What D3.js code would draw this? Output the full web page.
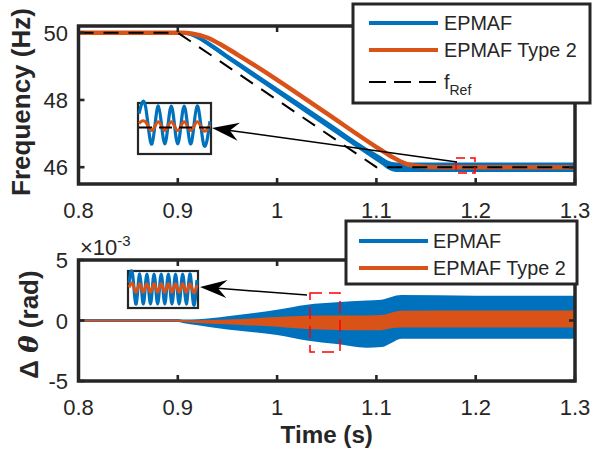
<!DOCTYPE html>
<html><head><meta charset="utf-8">
<script src="https://cdn.jsdelivr.net/npm/d3@7"></script>
<style>
body{margin:0;background:#fff}
svg{display:block}
text{font-family:"Liberation Sans",Arial,Helvetica,sans-serif;fill:#262626}
</style>
</head><body>
<svg id="c" width="603" height="452"></svg>
<script>
// ---------------- DATA ----------------
const xTicks = [0.8, 0.9, 1, 1.1, 1.2, 1.3];
const xTickLabels = ["0.8", "0.9", "1", "1.1", "1.2", "1.3"];
const freqTicks = [46, 48, 50];
const freqTickLabels = ["46", "48", "50"];
const dthTicks = [-5, 0, 5];           // x 10^-3 rad
const dthTickLabels = ["-5", "0", "5"];
const seriesNames = ["EPMAF", "EPMAF Type 2"];

// top panel: reference frequency
const refT = [0.8, 0.9, 1.1, 1.3];
const refF = [50, 50, 46, 46];
// top panel: EPMAF (centre and oscillation half-band, Hz)
const blueT   = [0.8, 0.905, 0.915, 0.925, 0.95, 1.0, 1.05, 1.09, 1.105, 1.112, 1.12, 1.3];
const blueF   = [50, 50, 49.93, 49.78, 49.28, 48.28, 47.28, 46.48, 46.2, 46.06, 46.0, 46.0];
const blueAmp = [0, 0, 0.03, 0.06, 0.08, 0.09, 0.1, 0.1, 0.12, 0.13, 0.14, 0.14];
// top panel: EPMAF Type 2
const orangeT = [0.8, 0.905, 0.915, 0.93, 0.945, 0.96, 1.0, 1.05, 1.1, 1.115, 1.13, 1.145, 1.16, 1.3];
const orangeF = [50, 50, 49.97, 49.85, 49.62, 49.35, 48.6, 47.6, 46.6, 46.32, 46.1, 46.02, 46.0, 46.0];

// bottom panel: envelopes of delta theta (x 10^-3 rad)
const envT     = [0.8, 0.9, 0.905, 0.92, 0.95, 1.0, 1.03, 1.06, 1.09, 1.105, 1.115, 1.125, 1.2, 1.3];
const blueUp   = [0.12, 0.12, 0.08, 0.1, 0.35, 0.88, 1.3, 1.5, 1.65, 1.72, 1.95, 2.1, 2.05, 2.05];
const blueLo   = [-0.12, -0.12, -0.2, -0.4, -0.75, -1.2, -1.65, -1.95, -2.25, -2.2, -1.85, -1.5, -1.5, -1.5];
const orangeUp = [0.08, 0.08, 0.05, 0.02, 0.08, 0.28, 0.4, 0.42, 0.42, 0.45, 0.65, 0.8, 0.83, 0.83];
const orangeLo = [-0.08, -0.08, -0.12, -0.2, -0.32, -0.52, -0.7, -0.78, -0.8, -0.8, -0.65, -0.58, -0.57, -0.57];

const insetTopBlue   = [0.6, 1, -1, 1, -1, 1, -1, 1, -1, 1, -1, 0.2];
const insetTopOrange = [0.1, 0.2, -0.35, 0.2, -0.35, 0.2, -0.35, 0.2, -0.35, 0.2, -0.35, 0.0];
const insetTopRef    = [-0.15, -0.15];
const insetBotBlue   = [0.4, 1, -1, 1, -1, 1, -1, 1, -1, 1, -1, 1, -1, 1, -1, 1, -1, 1, -1, 0.6];
const insetBotOrange = [0.05, 0.3, -0.3, 0.3, -0.3, 0.3, -0.3, 0.3, -0.3, 0.3, -0.3, 0.3, -0.3, 0.3, -0.3, 0.3, -0.3, 0.3, -0.3, 0.2];

// ---------------- STYLE / LAYOUT ----------------
const C_BLUE = "#0072BD", C_ORANGE = "#D95319", C_AX = "#262626", C_RED = "#FF0000";
const svg = d3.select("#c");
const L = 78.5, R = 575;
const topP = {t: 26, b: 184};
const botP = {t: 260, b: 381};

const x = d3.scaleLinear().domain([0.8, 1.3]).range([L, R]);
const yF = d3.scaleLinear().domain([45.5, 50.2]).range([topP.b, topP.t]);
const yD = d3.scaleLinear().domain([-5, 5]).range([botP.b, botP.t]);

const defs = svg.append("defs");
defs.append("clipPath").attr("id", "clipTop").append("rect")
  .attr("x", L).attr("y", topP.t).attr("width", R - L).attr("height", topP.b - topP.t);
defs.append("clipPath").attr("id", "clipBot").append("rect")
  .attr("x", L).attr("y", botP.t).attr("width", R - L).attr("height", botP.b - botP.t);

// ---------- top panel data ----------
const gT = svg.append("g").attr("clip-path", "url(#clipTop)");
const bluePts = blueT.map((t, i) => ({t, f: blueF[i], a: blueAmp[i]}));
gT.append("path").datum(bluePts)
  .attr("d", d3.area().x(d => x(d.t)).y0(d => yF(d.f - d.a)).y1(d => yF(d.f + d.a)).curve(d3.curveMonotoneX))
  .attr("fill", C_BLUE);
gT.append("path").datum(bluePts)
  .attr("d", d3.line().x(d => x(d.t)).y(d => yF(d.f)).curve(d3.curveMonotoneX))
  .attr("fill", "none").attr("stroke", C_BLUE).attr("stroke-width", 3.5);
gT.append("path").datum(orangeT.map((t, i) => ({t, f: orangeF[i]})))
  .attr("d", d3.line().x(d => x(d.t)).y(d => yF(d.f)).curve(d3.curveMonotoneX))
  .attr("fill", "none").attr("stroke", C_ORANGE).attr("stroke-width", 4.5);
gT.append("path").datum(refT.map((t, i) => ({t, f: refF[i]})))
  .attr("d", d3.line().x(d => x(d.t)).y(d => yF(d.f)))
  .attr("fill", "none").attr("stroke", "#000").attr("stroke-width", 2)
  .attr("stroke-dasharray", "15,10");

// ---------- bottom panel data ----------
const gB = svg.append("g").attr("clip-path", "url(#clipBot)");
gB.append("path").datum(envT.map((t, i) => ({t, u: blueUp[i], l: blueLo[i]})))
  .attr("d", d3.area().x(d => x(d.t)).y0(d => yD(d.l)).y1(d => yD(d.u)).curve(d3.curveMonotoneX))
  .attr("fill", C_BLUE);
gB.append("path").datum(envT.map((t, i) => ({t, u: orangeUp[i], l: orangeLo[i]})))
  .attr("d", d3.area().x(d => x(d.t)).y0(d => yD(d.l)).y1(d => yD(d.u)).curve(d3.curveMonotoneX))
  .attr("fill", C_ORANGE);

// ---------- axes ----------
function drawAxes(y, yTicks, yLabels, p) {
  const g = svg.append("g");
  const tickW = 2.6, tl = 6;
  g.selectAll(".xb").data(xTicks).join("line")
    .attr("x1", d => x(d)).attr("x2", d => x(d)).attr("y1", p.b).attr("y2", p.b - tl)
    .attr("stroke", C_AX).attr("stroke-width", tickW);
  g.selectAll(".xt").data(xTicks).join("line").attr("class", "xt")
    .attr("x1", d => x(d)).attr("x2", d => x(d)).attr("y1", p.t).attr("y2", p.t + tl)
    .attr("stroke", C_AX).attr("stroke-width", tickW);
  g.selectAll(".yl").data(yTicks).join("line").attr("class", "yl")
    .attr("x1", L).attr("x2", L + tl).attr("y1", d => y(d)).attr("y2", d => y(d))
    .attr("stroke", C_AX).attr("stroke-width", tickW);
  g.selectAll(".yr").data(yTicks).join("line").attr("class", "yr")
    .attr("x1", R).attr("x2", R - tl).attr("y1", d => y(d)).attr("y2", d => y(d))
    .attr("stroke", C_AX).attr("stroke-width", tickW);
  g.append("rect").attr("x", L).attr("y", p.t).attr("width", R - L).attr("height", p.b - p.t)
    .attr("fill", "none").attr("stroke", C_AX).attr("stroke-width", 3.5);
  g.selectAll(".xlab").data(xTicks).join("text").attr("class", "xlab")
    .attr("x", d => x(d)).attr("y", p.b + 33.5).attr("text-anchor", "middle")
    .attr("font-size", 22).text((d, i) => xTickLabels[i]);
  g.selectAll(".ylab").data(yTicks).join("text").attr("class", "ylab")
    .attr("x", 68).attr("y", d => y(d) + 8).attr("text-anchor", "end")
    .attr("font-size", 22).text((d, i) => yLabels[i]);
}
drawAxes(yF, freqTicks, freqTickLabels, topP);
drawAxes(yD, dthTicks, dthTickLabels, botP);

// exponent
const ex = svg.append("text").attr("x", 80).attr("y", 255).attr("font-size", 22);
ex.append("tspan").text("\u00d710");
ex.append("tspan").attr("font-size", 15).attr("dy", -9).text("-3");

// axis labels
svg.append("text").attr("transform", `translate(30,${(topP.t + topP.b) / 2 - 3}) rotate(-90)`)
  .attr("text-anchor", "middle").attr("font-size", 26).attr("font-weight", "bold")
  .text("Frequency (Hz)");
const dl = svg.append("text").attr("transform", `translate(38,${(botP.t + botP.b) / 2 + 4}) rotate(-90)`)
  .attr("text-anchor", "middle").attr("font-size", 26).attr("font-weight", "bold");
dl.append("tspan").text("\u0394 ");
dl.append("tspan").attr("font-style", "italic").attr("font-family", "'DejaVu Serif',serif").text("\u03b8");
dl.append("tspan").text(" (rad)");
svg.append("text").attr("x", (L + R) / 2).attr("y", 443).attr("text-anchor", "middle")
  .attr("font-size", 24.2).attr("font-weight", "bold").text("Time (s)");

// ---------- legends ----------
function legendBox(bx, by, bw, bh) {
  svg.append("rect").attr("x", bx).attr("y", by).attr("width", bw).attr("height", bh)
    .attr("fill", "#fff").attr("stroke", C_AX).attr("stroke-width", 3);
}
legendBox(353, 4, 237, 99);
const lgTop = [
  {y: 23, color: C_BLUE, label: seriesNames[0]},
  {y: 50, color: C_ORANGE, label: seriesNames[1]},
];
lgTop.forEach(e => {
  svg.append("line").attr("x1", 369).attr("x2", 438).attr("y1", e.y).attr("y2", e.y)
    .attr("stroke", e.color).attr("stroke-width", 4);
  svg.append("text").attr("x", 444).attr("y", e.y + 7).attr("font-size", 19.8).text(e.label);
});
svg.append("line").attr("x1", 369).attr("x2", 438).attr("y1", 82).attr("y2", 82)
  .attr("stroke", "#000").attr("stroke-width", 2).attr("stroke-dasharray", "17,8");
const fr = svg.append("text").attr("x", 444).attr("y", 89).attr("font-size", 19.8);
fr.append("tspan").text("f");
fr.append("tspan").attr("font-size", 14).attr("dy", 6).text("Ref");

legendBox(346, 221, 231, 63);
[{y: 241, color: C_BLUE, label: seriesNames[0]}, {y: 268, color: C_ORANGE, label: seriesNames[1]}]
.forEach(e => {
  svg.append("line").attr("x1", 359).attr("x2", 428).attr("y1", e.y).attr("y2", e.y)
    .attr("stroke", e.color).attr("stroke-width", 4);
  svg.append("text").attr("x", 433).attr("y", e.y + 7).attr("font-size", 19.8).text(e.label);
});

// ---------- zoom markers, arrows, insets ----------
svg.append("rect").attr("x", 456).attr("y", 158).attr("width", 19).attr("height", 15)
  .attr("fill", "none").attr("stroke", C_RED).attr("stroke-width", 1.5).attr("stroke-dasharray", "9,5");
svg.append("rect").attr("x", 310).attr("y", 293).attr("width", 30).attr("height", 59)
  .attr("fill", "none").attr("stroke", C_RED).attr("stroke-width", 1.5).attr("stroke-dasharray", "12,7");

function arrow(x1, y1, x2, y2) {
  const ang = Math.atan2(y2 - y1, x2 - x1);
  const hl = 27, hw = 9, notch = 18;
  const ux = Math.cos(ang), uy = Math.sin(ang), px = -uy, py = ux;
  const bx = x2 - ux * notch, by = y2 - uy * notch;
  svg.append("line").attr("x1", x1).attr("y1", y1).attr("x2", bx).attr("y2", by)
    .attr("stroke", "#000").attr("stroke-width", 1.5);
  const pts = [[x2, y2], [x2 - ux * hl + px * hw, y2 - uy * hl + py * hw], [bx, by],
               [x2 - ux * hl - px * hw, y2 - uy * hl - py * hw]];
  svg.append("path").attr("d", "M" + pts.map(p => p.join(",")).join("L") + "Z").attr("fill", "#000");
}
arrow(457, 162, 212, 128);
arrow(307, 295, 200, 287);

function inset(bx, by, bw, bh, blue, orange, bAmp, bMid, oAmp, oMid, ref) {
  svg.append("rect").attr("x", bx).attr("y", by).attr("width", bw).attr("height", bh)
    .attr("fill", "#fff").attr("stroke", C_AX).attr("stroke-width", 2.2);
  const sx = n => d3.scaleLinear().domain([0, n - 1]).range([bx + 1, bx + bw - 1]);
  const xb = sx(blue.length), xo = sx(orange.length);
  svg.append("path").attr("d", d3.line().x((d, i) => xb(i)).y(d => bMid - d * bAmp).curve(d3.curveNatural)(blue))
    .attr("fill", "none").attr("stroke", C_BLUE).attr("stroke-width", 3.2);
  svg.append("path").attr("d", d3.line().x((d, i) => xo(i)).y(d => oMid - d * oAmp).curve(d3.curveNatural)(orange))
    .attr("fill", "none").attr("stroke", C_ORANGE).attr("stroke-width", 3);
  if (ref) {
    const xr = sx(ref.length);
    svg.append("path").attr("d", d3.line().x((d, i) => xr(i)).y(d => oMid - d * oAmp)(ref))
      .attr("fill", "none").attr("stroke", "#000").attr("stroke-width", 2).attr("stroke-dasharray", "13,7");
  }
}
inset(138, 103, 73, 51, insetTopBlue, insetTopOrange, 19, 125, 16, 125, insetTopRef);
inset(128, 271, 70, 37, insetBotBlue, insetBotOrange, 15, 289, 14, 288, null);
</script>
</body></html>
